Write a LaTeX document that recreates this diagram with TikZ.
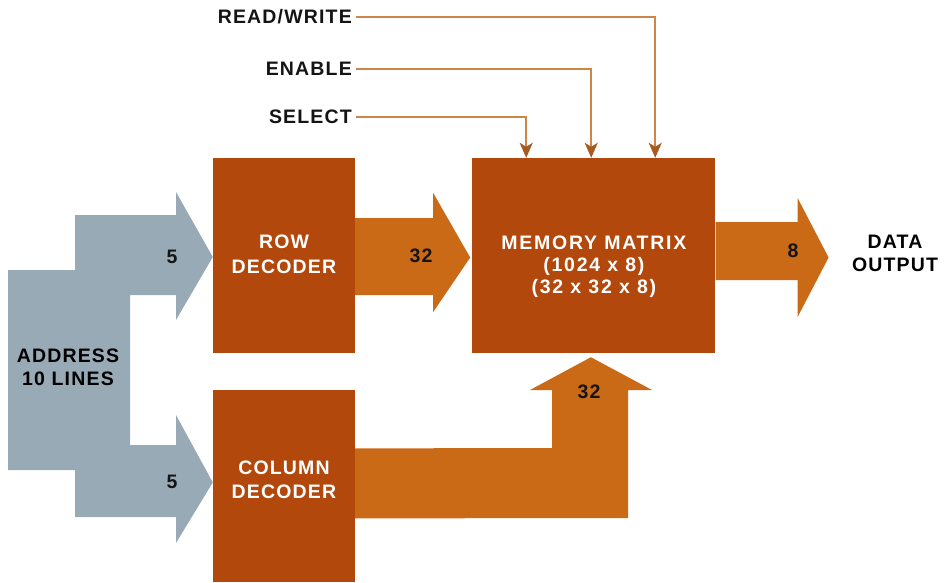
\documentclass[tikz,border=0pt]{standalone}
\usepackage{fontspec}
\setsansfont{Liberation Sans}[LetterSpace=6]
\usepackage{tikz}
\usetikzlibrary{arrows.meta,positioning,calc}
\definecolor{memBox}{HTML}{B2480C}
\definecolor{memArrow}{HTML}{CB6A16}
\definecolor{memGray}{HTML}{99AAB7}
\definecolor{memLine}{HTML}{CD8548}
\definecolor{memHead}{HTML}{A55A22}
\definecolor{memInk}{HTML}{141414}

\begin{document}
\begin{tikzpicture}[
  x=1pt,y=-1pt,
  font=\sffamily\bfseries\fontsize{19.5}{23}\selectfont,
  every node/.style={align=center},
  decbox/.style ={rectangle,fill=memBox,minimum width=142pt,minimum height=195pt,inner sep=0pt},
  matbox/.style ={rectangle,fill=memBox,minimum width=243pt,minimum height=195pt,inner sep=0pt},
  boxtext/.style ={text=white,inner sep=0pt},
  busarrow/.style={fill=memArrow},
  addrarrow/.style={fill=memGray},
  buslabel/.style={text=memInk,inner sep=0pt},
  ctllabel/.style={text=memInk,inner sep=4pt,anchor=east},
  ctl/.style ={draw=memLine,line width=1.8pt,-{Stealth[length=15pt,width=13pt,inset=4pt,color=memHead]}}
]
\useasboundingbox (0,0) rectangle (945,582);

% decoders and matrix
\node[decbox] (row) at (284,255.5) {};
\node[decbox,below=37pt of row,minimum height=192pt] (col) {};
\node[matbox,right=117pt of row] (mem) {};
\node[boxtext,font=\sffamily\bfseries\fontsize{19.5}{25}\selectfont] (rowtxt) at ($(row.center)+(0,-1)$) {ROW\\DECODER};
\node[boxtext,font=\sffamily\bfseries\fontsize{19.5}{24}\selectfont] (coltxt) at ($(col.center)+(0,-7)$) {COLUMN\\DECODER};
\node[boxtext,font=\sffamily\bfseries\fontsize{19.5}{22}\selectfont\addfontfeatures{LetterSpace=9}] (memtxt) at ($(mem.center)+(0,11)$) {MEMORY MATRIX\\(1024 x 8)\\(32 x 32 x 8)};

% address bus (grey)
\fill[addrarrow] (8,270) -- (75,270) -- (75,215) -- (176,215) -- (176,192)
  -- ($(row.west)+(0,1.5)$) -- (176,320) -- (176,295) -- (130,295) -- (130,445)
  -- (176,445) -- (176,415) -- ($(col.west)+(0,-4)$) -- (176,543) -- (176,517)
  -- (75,517) -- (75,470) -- (8,470) -- cycle;
\node (addr) at (68,367) {ADDRESS\\10 LINES};
\node[buslabel] (a5r) at (172,257) {5};
\node[buslabel] (a5c) at (172,482) {5};

% row decoder -> matrix
\fill[busarrow] ($(row.east)+(0,-37.5)$) -- ++(78,0) -- ++(0,-25)
  -- ($(mem.west)+(-2,2)$) -- ($(row.east)+(78,56.5)$) -- ++(0,-17) -- ($(row.east)+(0,39.5)$) -- cycle;
\node[buslabel] (r32) at (421,256) {32};

% column decoder -> matrix
\fill[busarrow] ($(col.east)+(0,-38)$) -- (552,448) -- (552,390) -- (530,390)
  -- ($(mem.south)+(-3,4)$) -- (652,390) -- (628,390) -- (628,518) -- ($(col.east)+(0,32)$) -- cycle;
\node[buslabel] (c32) at (589,392) {32};

% matrix -> output
\fill[busarrow] ($(mem.east)+(0,-33.5)$) -- ++(82,0) -- ++(0,-24)
  -- ($(mem.east)+(113,2)$) -- ($(mem.east)+(82,61.5)$) -- ++(0,-37) -- ($(mem.east)+(0,24.5)$) -- cycle;
\node[buslabel] (o8) at (793,251) {8};
\node (out) at (895,253) {DATA\\OUTPUT};

% control lines
\node[ctllabel] (rw)  at (356,17)  {READ/WRITE};
\node[ctllabel] (en)  at (356,69)  {ENABLE};
\node[ctllabel] (sel) at (356,117) {SELECT};
\coordinate (selin) at ($(mem.north west)+(54,0)$);
\coordinate (enin)  at ($(mem.north west)+(119,0)$);
\coordinate (rwin)  at ($(mem.north west)+(183,0)$);
\draw[ctl] (sel.east) -| (selin);
\draw[ctl] (en.east)  -| (enin);
\draw[ctl] (rw.east)  -| (rwin);
\end{tikzpicture}
\end{document}
